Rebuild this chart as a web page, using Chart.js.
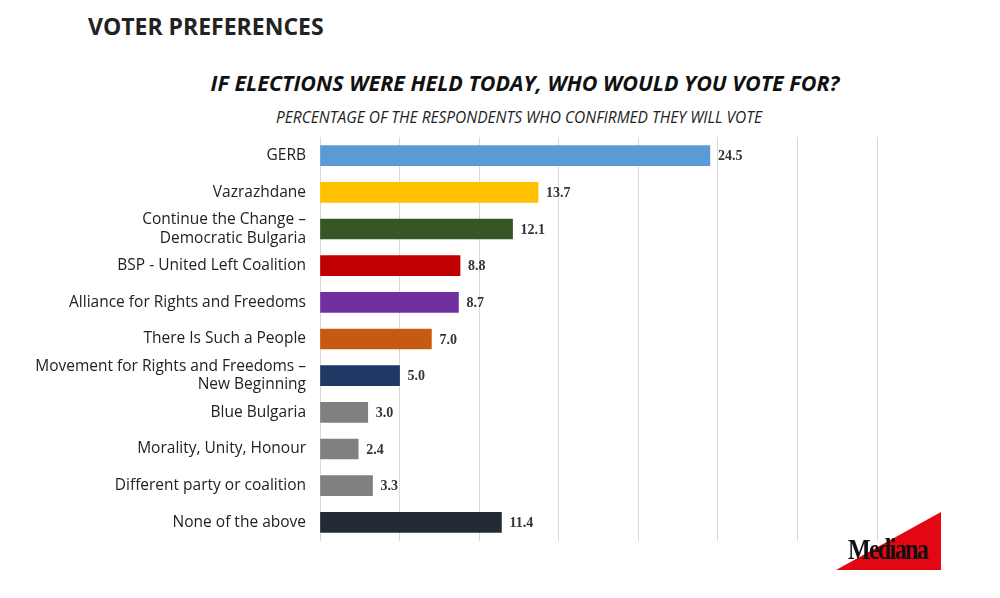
<!DOCTYPE html>
<html><head><meta charset="utf-8">
<script src="https://cdn.jsdelivr.net/npm/chart.js@4"></script>
<style>
body{margin:0;width:1000px;height:598px;background:#fff;position:relative;overflow:hidden;font-family:"Open Sans",sans-serif}
#t1{position:absolute;left:88px;top:10px;font-size:23px;font-weight:bold;color:#222}
#t2{position:absolute;left:0;width:1050px;top:68px;text-align:center;font-size:21.5px;font-weight:bold;font-style:italic;color:#111}
#t3{position:absolute;left:0;width:1038px;top:106px;text-align:center;font-size:15.5px;font-style:italic;color:#222}
#wrap{position:absolute;left:0;top:122px;width:1000px;height:434px}
#logo{position:absolute;left:836px;top:512px;width:105px;height:58px}
#tri{position:absolute;right:0;bottom:0;width:0;height:0;border-left:105px solid transparent;border-bottom:58px solid #e30613}
#logo span{position:absolute;left:12px;top:20px;font-family:"Liberation Serif",serif;font-weight:bold;font-size:30px;letter-spacing:-2px;color:#111;transform:scaleX(0.8);transform-origin:left}
</style></head><body>
<div id="t1">VOTER PREFERENCES</div>
<div id="t2">IF ELECTIONS WERE HELD TODAY, WHO WOULD YOU VOTE FOR?</div>
<div id="t3">PERCENTAGE OF THE RESPONDENTS WHO CONFIRMED THEY WILL VOTE</div>
<div id="wrap"><canvas id="c"></canvas></div>
<div id="logo"><div id="tri"></div><span>Mediana</span></div>
<script>
// Data
const parties = ['GERB', 'Vazrazhdane', ['Continue the Change –', 'Democratic Bulgaria'], 'BSP - United Left Coalition',
  'Alliance for Rights and Freedoms', 'There Is Such a People', ['Movement for Rights and Freedoms –', 'New Beginning'],
  'Blue Bulgaria', 'Morality, Unity, Honour', 'Different party or coalition', 'None of the above'];
const shares = [24.5, 13.7, 12.1, 8.8, 8.7, 7.0, 5.0, 3.0, 2.4, 3.3, 11.4];
const barColors = ['#5b9bd5', '#ffc000', '#375623', '#c00000', '#7030a0', '#c55a11', '#1f3864',
  '#808080', '#808080', '#808080', '#222a35'];

// Value labels at bar ends
const valueLabels = {
  id: 'valueLabels',
  afterDatasetsDraw(chart) {
    const ctx = chart.ctx;
    ctx.save();
    ctx.font = 'bold 14px "Liberation Serif", serif';
    ctx.fillStyle = '#333';
    ctx.textBaseline = 'middle';
    chart.getDatasetMeta(0).data.forEach((bar, i) => {
      ctx.fillText(shares[i].toFixed(1), bar.x + 8, bar.y + 1);
    });
    ctx.restore();
  }
};

new Chart(document.getElementById('c'), {
  type: 'bar',
  data: { labels: parties, datasets: [{ data: shares, backgroundColor: barColors, barThickness: 20 }] },
  options: {
    indexAxis: 'y', responsive: true, maintainAspectRatio: false, animation: false,
    layout: { padding: { right: 123 } },
    plugins: { legend: { display: false }, tooltip: { enabled: false } },
    scales: {
      x: { min: 0, max: 35, ticks: { display: false, stepSize: 5 }, border: { display: false },
           grid: { color: '#d9d9d9', drawTicks: false } },
      y: { grid: { display: false }, border: { color: '#d9d9d9' },
           ticks: { autoSkip: false, color: '#222', font: { size: 15.5, family: 'Open Sans', lineHeight: 1.2 }, padding: 6 },
           afterFit(s) { s.width = 320; } }
    }
  },
  plugins: [valueLabels]
});
</script>
</body></html>
